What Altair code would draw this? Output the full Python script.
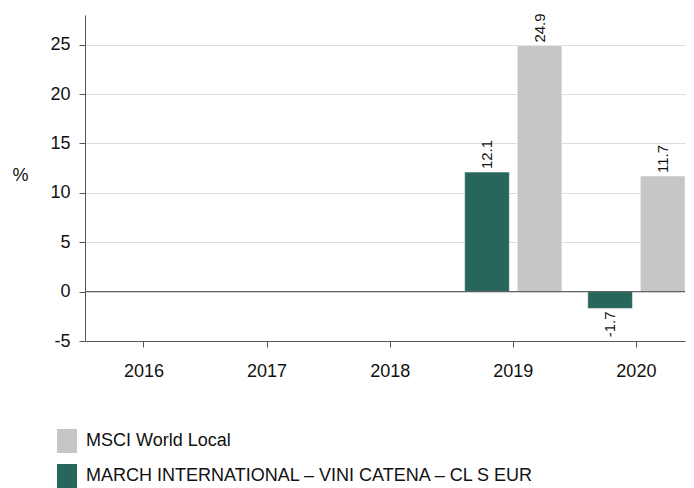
import altair as alt
import pandas as pd

years = ["2016", "2017", "2018", "2019", "2020"]
series_names = ["MSCI World Local", "MARCH INTERNATIONAL – VINI CATENA – CL S EUR"]
series_colors = ["#c6c6c6", "#27665a"]
bar_order = ["MARCH INTERNATIONAL – VINI CATENA – CL S EUR", "MSCI World Local"]

fund_years = ["2019", "2020"]
fund_values = [12.1, -1.7]
index_years = ["2019", "2020"]
index_values = [24.9, 11.7]

rows = []
for y, v in zip(fund_years, fund_values):
    rows.append({"year": y, "series": series_names[1], "value": v})
for y, v in zip(index_years, index_values):
    rows.append({"year": y, "series": series_names[0], "value": v})
df = pd.DataFrame(rows)
df["label"] = df["value"].map(lambda v: f"{v:.1f}")

FONT = "Liberation Sans"

x_scale = alt.Scale(domain=years, paddingInner=0.21, paddingOuter=0.042, align=1)
x_enc = alt.X("year:N", scale=x_scale,
              axis=alt.Axis(title=None, labelAngle=0, labelFontSize=18, labelColor="#111",
                            labelPadding=15, tickSize=6, tickColor="#555", domainColor="#555",
                            grid=False, labelFont=FONT))
y_scale = alt.Scale(domain=[-5, 28], nice=False)
xo = alt.XOffset("series:N", sort=bar_order, scale=alt.Scale(paddingInner=0.15))

base = alt.Chart(df)

bars = base.mark_bar(stroke="white", strokeWidth=0.5).encode(
    x=x_enc,
    xOffset=xo,
    y=alt.Y("value:Q", scale=y_scale,
            axis=alt.Axis(values=[-5, 0, 5, 10, 15, 20, 25], title="%", titleAngle=0,
                          labelExpr="'' + datum.value",
                          titleFontSize=18, titleFontWeight="normal", titleColor="#111",
                          titleX=-65, titleY=160, titleAlign="center", titleBaseline="middle",
                          labelFontSize=18, labelColor="#111", labelPadding=9, tickSize=6,
                          tickColor="#555", domainColor="#555", gridColor="#dddddd",
                          labelFont=FONT, titleFont=FONT)),
    color=alt.Color("series:N", scale=alt.Scale(domain=series_names, range=series_colors),
                    legend=alt.Legend(title=None, orient="none", legendX=-30, legendY=414,
                                      symbolType="M-0.833,-1H0.833V1H-0.833Z", symbolSize=576,
                                      symbolStrokeWidth=0, symbolOpacity=1, labelFontSize=18,
                                      labelColor="#111", labelFont=FONT, labelOffset=7,
                                      rowPadding=11, labelLimit=600)),
)

zero = alt.Chart(pd.DataFrame({"z": [0]})).mark_rule(color="#555", strokeWidth=1).encode(y=alt.Y("z:Q", scale=y_scale))

pos_text = base.transform_filter("datum.value >= 0").mark_text(
    angle=270, align="left", baseline="middle", dx=3, fontSize=15, font=FONT, color="#111"
).encode(x=alt.X("year:N", scale=x_scale), xOffset=xo, y=alt.Y("value:Q", scale=y_scale), text="label:N")

neg_text = base.transform_filter("datum.value < 0").mark_text(
    angle=270, align="right", baseline="middle", dx=-3, fontSize=15, font=FONT, color="#111"
).encode(x=alt.X("year:N", scale=x_scale), xOffset=xo, y=alt.Y("value:Q", scale=y_scale), text="label:N")

chart = alt.layer(bars, zero, pos_text, neg_text).properties(
    width=600, height=326, padding={"left": 3, "top": 5, "right": 0, "bottom": 0}
).configure_view(stroke=None)

chart.save("out.html", embed_options={"renderer": "svg", "actions": False})
